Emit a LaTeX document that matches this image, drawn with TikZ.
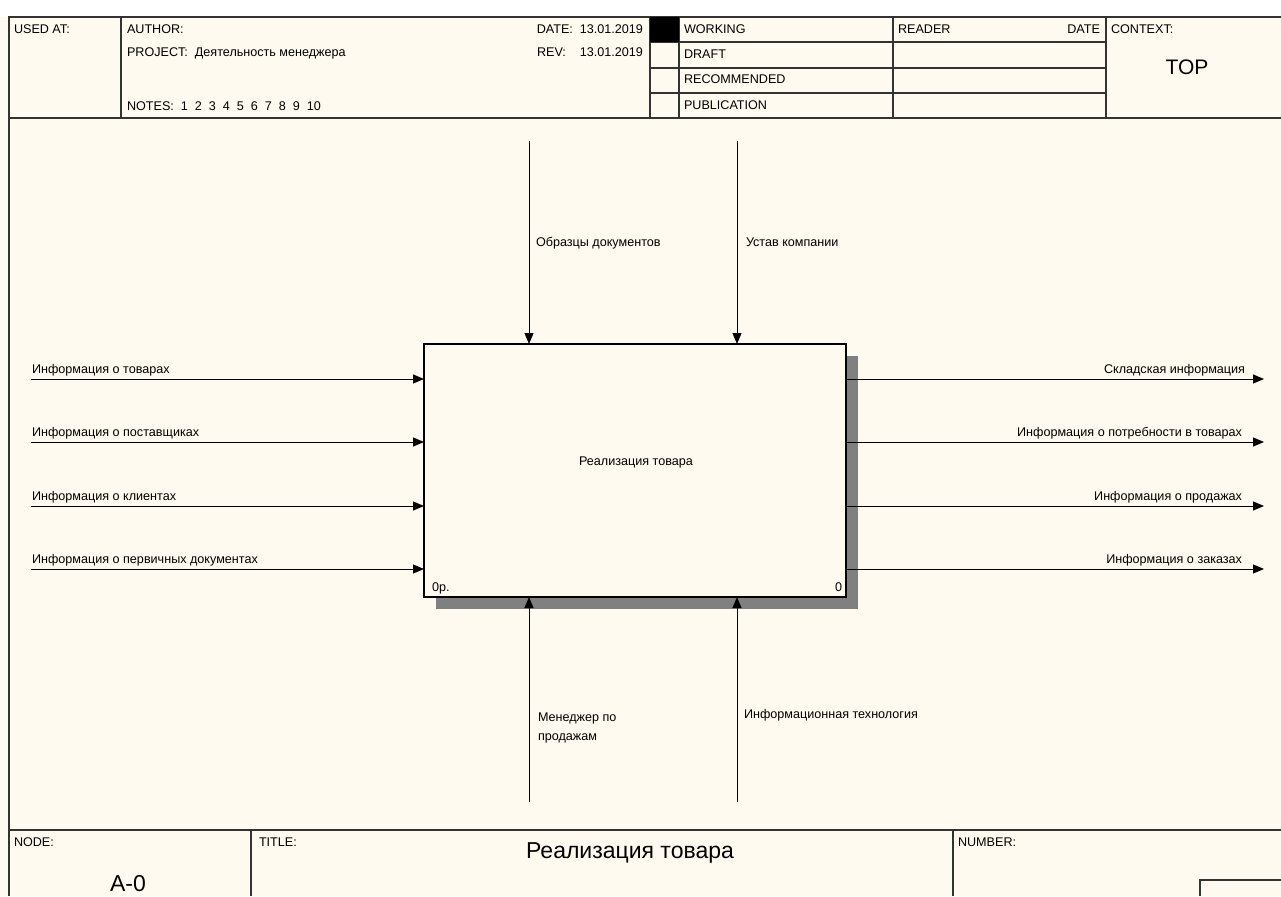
\documentclass[tikz,border=0pt]{standalone}
\usepackage{fontspec}
\setmainfont{Liberation Sans}
\usetikzlibrary{arrows.meta,patterns}
\definecolor{paper}{HTML}{FFFAF0}
\definecolor{frame}{HTML}{333333}
\begin{document}
\begin{tikzpicture}[x=1pt,y=-1pt,
  every node/.style={inner sep=0pt,outer sep=0pt,font=\fontsize{12.6}{14}\selectfont},
  frameline/.style={draw=frame,line width=1.3pt},
  arr/.style={draw=black,line width=1pt,-{Triangle[length=11pt,width=9pt]}},
  lab/.style={anchor=base west},
  rlab/.style={anchor=base east},
  big/.style={font=\fontsize{21}{24}\selectfont},
  bigger/.style={font=\fontsize{23}{26}\selectfont}]
\useasboundingbox (0,0) rectangle (1281,896);
\fill[white] (0,0) rectangle (1281,17);
\fill[paper] (0,17) rectangle (1281,896);
% header frame
\draw[frameline] (1281,17) -- (9,17) -- (9,896);
\draw[frameline] (9,118) -- (1281,118);
\draw[frameline] (121,17) -- (121,118);
\draw[frameline] (650,17) -- (650,118);
\draw[frameline] (679,17) -- (679,118);
\draw[frameline] (893,17) -- (893,118);
\draw[frameline] (1106,17) -- (1106,118);
\draw[frameline] (650,42) -- (1106,42);
\draw[frameline] (650,68) -- (1106,68);
\draw[frameline] (650,93) -- (1106,93);
\fill[black] (650,17) rectangle (679,42);
% header texts
\node[lab] (usedat) at (14,34) {USED AT:};
\node[lab] (author) at (127,34) {AUTHOR:};
\node[lab] (project) at (127,57) {PROJECT:\ \ Деятельность менеджера};
\node[lab] (notes) at (127,111) {NOTES:\ \ 1\ \ 2\ \ 3\ \ 4\ \ 5\ \ 6\ \ 7\ \ 8\ \ 9\ \ 10};
\node[rlab] (date) at (643,34) {DATE:\ \ 13.01.2019};
\node[lab] (rev) at (537,57) {REV:\ \ \ \ 13.01.2019};
\node[lab] (working) at (684,34) {WORKING};
\node[lab] (draft) at (684,59) {DRAFT};
\node[lab] (recommended) at (684,84) {RECOMMENDED};
\node[lab] (publication) at (684,110) {PUBLICATION};
\node[lab] (reader) at (898,34) {READER};
\node[rlab] (rdate) at (1100,34) {DATE};
\node[lab] (context) at (1111,34) {CONTEXT:};
\node[big,anchor=base] (top) at (1187,75) {TOP};
% footer frame
\draw[frameline] (9,830) -- (1281,830);
\draw[frameline] (251,830) -- (251,896);
\draw[frameline] (953,830) -- (953,896);
\draw[frameline] (1281,880) -- (1200,880) -- (1200,896);
\node[lab] (nodel) at (14,846) {NODE:};
\node[lab] (titlel) at (259,846) {TITLE:};
\node[lab] (numberl) at (958,846) {NUMBER:};
\node[bigger,anchor=base] (nodeno) at (128,891) {A-0};
\node[bigger,anchor=base] (title) at (630,858) {Реализация товара};
% shadow and box
\fill[black!50] (436,356) rectangle (858,609);
\node[draw=black,line width=2pt,fill=paper,minimum width=422pt,minimum height=253pt,anchor=north west] (box) at (424,344) {};
\node[anchor=base] (boxlab) at (636,465) {Реализация товара};
\node[lab] (boxid) at (432,591) {0р.};
\node[rlab] (boxno) at (842,591) {0};
% inputs
\coordinate (i1) at (31,379);
\coordinate (i2) at (31,442);
\coordinate (i3) at (31,506);
\coordinate (i4) at (31,569);
\draw[arr] (i1) -- (i1 -| box.west);
\draw[arr] (i2) -- (i2 -| box.west);
\draw[arr] (i3) -- (i3 -| box.west);
\draw[arr] (i4) -- (i4 -| box.west);
\node[lab] (li1) at (32,373) {Информация о товарах};
\node[lab] (li2) at (32,436) {Информация о поставщиках};
\node[lab] (li3) at (32,500) {Информация о клиентах};
\node[lab] (li4) at (32,563) {Информация о первичных документах};
% outputs
\coordinate (o1) at (1264,379);
\coordinate (o2) at (1264,442);
\coordinate (o3) at (1264,506);
\coordinate (o4) at (1264,569);
\draw[arr] (o1 -| box.east) -- (o1);
\draw[arr] (o2 -| box.east) -- (o2);
\draw[arr] (o3 -| box.east) -- (o3);
\draw[arr] (o4 -| box.east) -- (o4);
\node[rlab] (lo1) at (1245,373) {Складская информация};
\node[rlab] (lo2) at (1242,436) {Информация о потребности в товарах};
\node[rlab] (lo3) at (1242,500) {Информация о продажах};
\node[rlab] (lo4) at (1242,563) {Информация о заказах};
% controls
\coordinate (c1) at (529,141);
\coordinate (c2) at (737,141);
\draw[arr] (c1) -- (c1 |- box.north);
\draw[arr] (c2) -- (c2 |- box.north);
\node[lab] (lc1) at (536,246) {Образцы документов};
\node[lab] (lc2) at (746,246) {Устав компании};
% mechanisms
\coordinate (m1) at (529,802);
\coordinate (m2) at (737,802);
\draw[arr] (m1) -- (m1 |- box.south);
\draw[arr] (m2) -- (m2 |- box.south);
\node[lab] (lm1) at (538,721) {Менеджер по};
\node[lab] (lm1b) at (538,740) {продажам};
\node[lab] (lm2) at (744,718) {Информационная технология};
\end{tikzpicture}
\end{document}
